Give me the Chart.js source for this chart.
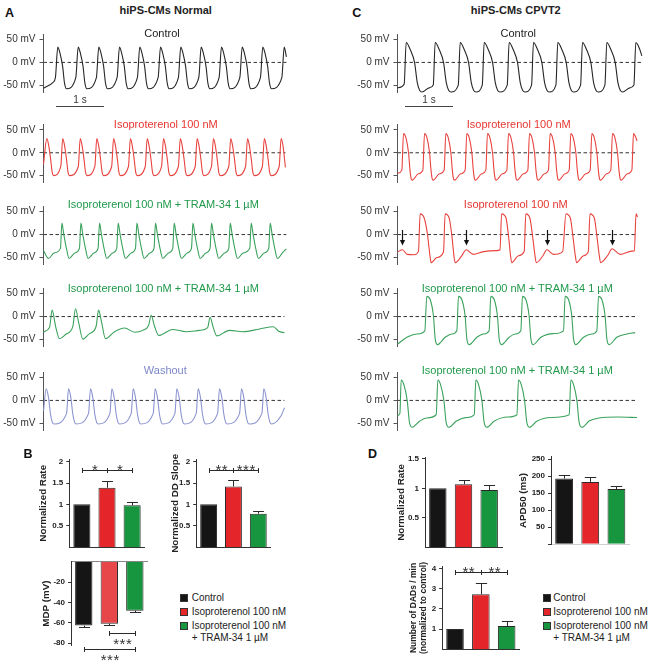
<!DOCTYPE html>
<html>
<head>
<meta charset="utf-8">
<script src="https://cdn.jsdelivr.net/npm/chart.js@4.4.1/dist/chart.umd.min.js"></script>
<style>
  html, body { margin: 0; padding: 0; background: #fff; overflow: hidden; }
  #fig { position: relative; width: 649px; height: 664px; overflow: hidden;
         font-family: "Liberation Sans", Arial, sans-serif; color: #222; }
  #fig canvas { position: absolute; }
  .t { position: absolute; white-space: nowrap; transform: translate(-50%, -50%); line-height: 1; }
  .letter { font-size: 12.5px; font-weight: bold; color: #111; }
  .head { font-size: 11px; font-weight: bold; color: #222; }
  .lab { font-size: 11px; }
  .red { color: #e63631; }
  .grn { color: #20994a; }
  .wash { color: #7e88c9; }
  .sc { font-size: 10px; color: #333; }
  .sbar { position: absolute; height: 1px; background: #444; }
  .sq { position: absolute; width: 8px; height: 8px; box-sizing: border-box; border: 1px solid #333; }
  .lg { position: absolute; white-space: nowrap; font-size: 10px; line-height: 1; transform: translateY(-50%); color: #222; }
</style>
</head>
<body>
<div id="fig">
  <div class="t letter" style="left:9.5px;top:12.5px">A</div>
  <div class="t letter" style="left:356.7px;top:12.5px">C</div>
  <div class="t letter" style="left:28px;top:454px">B</div>
  <div class="t letter" style="left:372.5px;top:454px">D</div>
  <div class="t head" style="left:165.7px;top:9.5px">hiPS-CMs Normal</div>
  <div class="t head" style="left:515.8px;top:10px">hiPS-CMs CPVT2</div>

  <div class="t lab" style="left:162px;top:33.3px">Control</div>
  <div class="t lab red" style="left:165.8px;top:124px">Isoproterenol 100 nM</div>
  <div class="t lab grn" style="left:163.3px;top:204.3px">Isoproterenol 100 nM + TRAM-34 1 µM</div>
  <div class="t lab grn" style="left:163.3px;top:288.3px">Isoproterenol 100 nM + TRAM-34 1 µM</div>
  <div class="t lab wash" style="left:165.3px;top:370px">Washout</div>

  <div class="t lab" style="left:518.3px;top:33px">Control</div>
  <div class="t lab red" style="left:518.7px;top:124px">Isoproterenol 100 nM</div>
  <div class="t lab red" style="left:515.8px;top:204.3px">Isoproterenol 100 nM</div>
  <div class="t lab grn" style="left:517.3px;top:288.3px">Isoproterenol 100 nM + TRAM-34 1 µM</div>
  <div class="t lab grn" style="left:517.3px;top:370px">Isoproterenol 100 nM + TRAM-34 1 µM</div>

  <div class="sbar" style="left:56px;top:106px;width:48px"></div>
  <div class="t sc" style="left:80px;top:100px">1 s</div>
  <div class="sbar" style="left:405px;top:106px;width:48px"></div>
  <div class="t sc" style="left:429px;top:100px">1 s</div>

  <div class="sq" style="left:180px;top:594.3px;background:#151515"></div>
  <div class="lg" style="left:191.7px;top:598.3px">Control</div>
  <div class="sq" style="left:180px;top:607.7px;background:#e4262a"></div>
  <div class="lg" style="left:191.7px;top:611.7px">Isoproterenol 100 nM</div>
  <div class="sq" style="left:180px;top:621.7px;background:#17963f"></div>
  <div class="lg" style="left:191.7px;top:625.7px">Isoproterenol 100 nM</div>
  <div class="lg" style="left:191.7px;top:637.5px">+ TRAM-34 1 µM</div>

  <div class="sq" style="left:542.7px;top:594.3px;background:#151515"></div>
  <div class="lg" style="left:553.3px;top:598.3px">Control</div>
  <div class="sq" style="left:542.7px;top:607.7px;background:#e4262a"></div>
  <div class="lg" style="left:553.3px;top:611.7px">Isoproterenol 100 nM</div>
  <div class="sq" style="left:542.7px;top:621.7px;background:#17963f"></div>
  <div class="lg" style="left:553.3px;top:625.7px">Isoproterenol 100 nM</div>
  <div class="lg" style="left:553.3px;top:637.5px">+ TRAM-34 1 µM</div>
</div>
<script>
// ---- data ----
// traces: [time (s), membrane potential (mV)]
const traceACtrl = [[0,-56],[0.2,-43],[0.248,-33],[0.298,33],[0.348,18],[0.398,-8],[0.438,-45],[0.478,-57],
  [0.673,-33],[0.723,33],[0.773,18],[0.823,-8],[0.863,-45],[0.903,-57],
  [1.102,-33],[1.152,33],[1.202,18],[1.252,-8],[1.292,-45],[1.332,-57],
  [1.533,-33],[1.583,33],[1.633,18],[1.683,-8],[1.723,-45],[1.763,-57],
  [1.956,-33],[2.006,33],[2.056,18],[2.106,-8],[2.146,-45],[2.186,-57],
  [2.388,-33],[2.438,33],[2.488,18],[2.538,-8],[2.578,-45],[2.618,-57],
  [2.81,-33],[2.86,33],[2.91,18],[2.96,-8],[3.0,-45],[3.04,-57],
  [3.235,-33],[3.285,33],[3.335,18],[3.385,-8],[3.425,-45],[3.465,-57],
  [3.658,-33],[3.708,33],[3.758,18],[3.808,-8],[3.848,-45],[3.888,-57],
  [4.09,-33],[4.14,33],[4.19,18],[4.24,-8],[4.28,-45],[4.32,-57],
  [4.519,-33],[4.569,33],[4.619,18],[4.669,-8],[4.709,-45],[4.749,-57],
  [4.965,-33],[5.015,33],[5.06,12]];

const traceAIso = [[0,-25],[0.07,31],[0.11,15],[0.15,-15],[0.18,-42],[0.21,-50],
  [0.36,-30],[0.4,31],[0.44,15],[0.48,-15],[0.51,-42],[0.54,-50],
  [0.725,-30],[0.765,31],[0.805,15],[0.845,-15],[0.875,-42],[0.905,-50],
  [1.07,-30],[1.11,31],[1.15,15],[1.19,-15],[1.22,-42],[1.25,-50],
  [1.42,-30],[1.46,31],[1.5,15],[1.54,-15],[1.57,-42],[1.6,-50],
  [1.77,-30],[1.81,31],[1.85,15],[1.89,-15],[1.92,-42],[1.95,-50],
  [2.12,-30],[2.16,31],[2.2,15],[2.24,-15],[2.27,-42],[2.3,-50],
  [2.46,-30],[2.5,31],[2.54,15],[2.58,-15],[2.61,-42],[2.64,-50],
  [2.81,-30],[2.85,31],[2.89,15],[2.93,-15],[2.96,-42],[2.99,-50],
  [3.16,-30],[3.2,31],[3.24,15],[3.28,-15],[3.31,-42],[3.34,-50],
  [3.5,-30],[3.54,31],[3.58,15],[3.62,-15],[3.65,-42],[3.68,-50],
  [3.86,-30],[3.9,31],[3.94,15],[3.98,-15],[4.01,-42],[4.04,-50],
  [4.21,-30],[4.25,31],[4.29,15],[4.33,-15],[4.36,-42],[4.39,-50],
  [4.56,-30],[4.6,31],[4.64,15],[4.68,-15],[4.71,-42],[4.74,-50],
  [4.91,-30],[4.95,31],[4.99,15],[5.04,-32]];

const traceATram = [[0,-35],[0.104,-52],[0.22,-40],
  [0.353,-30],[0.383,25],[0.423,0],[0.483,-33],[0.533,-52],[0.653,-40],
  [0.749,-30],[0.779,25],[0.819,0],[0.879,-33],[0.929,-52],[1.049,-40],
  [1.137,-30],[1.167,25],[1.207,0],[1.267,-33],[1.317,-52],[1.437,-40],
  [1.526,-30],[1.556,25],[1.596,0],[1.656,-33],[1.706,-52],[1.826,-40],
  [1.916,-30],[1.946,25],[1.986,0],[2.046,-33],[2.096,-52],[2.216,-40],
  [2.303,-30],[2.333,25],[2.373,0],[2.433,-33],[2.483,-52],[2.603,-40],
  [2.693,-30],[2.723,25],[2.763,0],[2.823,-33],[2.873,-52],[2.993,-40],
  [3.083,-30],[3.113,25],[3.153,0],[3.213,-33],[3.263,-52],[3.383,-40],
  [3.47,-30],[3.5,25],[3.54,0],[3.6,-33],[3.65,-52],[3.77,-40],
  [3.86,-30],[3.89,25],[3.93,0],[3.99,-33],[4.04,-52],[4.16,-40],
  [4.297,-30],[4.327,25],[4.367,0],[4.427,-33],[4.477,-52],[4.597,-40],
  [4.693,-30],[4.723,25],[4.763,0],[4.823,-33],[4.873,-52],[4.99,-38],[5.06,-31]];

const traceATram2 = [[0,-33],[0.125,-24],[0.18,14],[0.25,-20],[0.333,-48],[0.47,-38],[0.61,-22],
  [0.667,17],[0.736,-15],[0.819,-49],[0.958,-37],[1.097,-21],[1.146,14],[1.215,-15],[1.29,-48],
  [1.48,-33],[1.69,-25],[1.9,-34],[2.07,-30],[2.19,-19],[2.243,3],[2.31,-20],[2.4,-41],
  [2.69,-28],[2.97,-33],[3.25,-30],[3.42,-24],[3.47,-1.5],[3.54,-25],[3.61,-42],
  [3.875,-30],[4.15,-33],[4.5,-27],[4.79,-22],[4.9,-32],[5.02,-35]];

const traceAWash = [[0,-23],[0.056,25],[0.106,5],[0.146,-30],[0.186,-48],[0.216,-51],
  [0.481,-28],[0.521,25],[0.571,5],[0.611,-30],[0.651,-48],[0.681,-51],
  [0.939,-28],[0.979,25],[1.029,5],[1.069,-30],[1.109,-48],[1.139,-51],
  [1.384,-28],[1.424,25],[1.474,5],[1.514,-30],[1.554,-48],[1.584,-51],
  [1.828,-28],[1.868,25],[1.918,5],[1.958,-30],[1.998,-48],[2.028,-51],
  [2.286,-28],[2.326,25],[2.376,5],[2.416,-30],[2.456,-48],[2.486,-51],
  [2.738,-28],[2.778,25],[2.828,5],[2.868,-30],[2.908,-48],[2.938,-51],
  [3.182,-28],[3.222,25],[3.272,5],[3.312,-30],[3.352,-48],[3.382,-51],
  [3.627,-28],[3.667,25],[3.717,5],[3.757,-30],[3.797,-48],[3.827,-51],
  [4.085,-28],[4.125,25],[4.175,5],[4.215,-30],[4.255,-48],[4.285,-51],
  [4.55,-28],[4.59,25],[4.64,5],[4.68,-30],[4.72,-48],[4.75,-51],[4.95,-33],[5.02,-16]];

const traceCCtrl = [[0,-55],[0.139,-47],[0.181,43],[0.264,28],[0.355,0],[0.411,-43],[0.461,-60],[0.511,-64],[0.66,-55],
  [0.745,-49],[0.785,43],[0.868,28],[0.959,0],[1.015,-43],[1.065,-60],[1.115,-64],
  [1.266,-49],[1.306,43],[1.389,28],[1.48,0],[1.536,-43],[1.586,-60],[1.636,-64],
  [1.766,-49],[1.806,43],[1.889,28],[1.98,0],[2.036,-43],[2.086,-60],[2.136,-64],
  [2.286,-49],[2.326,43],[2.409,28],[2.5,0],[2.556,-43],[2.606,-60],[2.656,-64],
  [2.793,-49],[2.833,43],[2.916,28],[3.007,0],[3.063,-43],[3.113,-60],[3.163,-64],
  [3.3,-49],[3.34,43],[3.423,28],[3.514,0],[3.57,-43],[3.62,-60],[3.67,-64],
  [3.814,-49],[3.854,43],[3.937,28],[4.028,0],[4.084,-43],[4.134,-60],[4.184,-64],
  [4.321,-49],[4.361,43],[4.444,28],[4.535,0],[4.591,-43],[4.641,-60],[4.691,-64],[4.84,-55],
  [4.925,-49],[4.965,43],[5.048,28],[5.09,14]];

const traceCIso = [[0,-45],[0.09,-38],[0.125,42],[0.175,33],[0.23,0],[0.26,-38],[0.285,-57],[0.305,-60],[0.435,-46],
  [0.528,-38],[0.563,42],[0.613,33],[0.668,0],[0.698,-38],[0.723,-57],[0.743,-60],[0.873,-46],
  [0.972,-38],[1.007,42],[1.057,33],[1.112,0],[1.142,-38],[1.167,-57],[1.187,-60],[1.317,-46],
  [1.409,-38],[1.444,42],[1.494,33],[1.549,0],[1.579,-38],[1.604,-57],[1.624,-60],[1.754,-46],
  [1.84,-38],[1.875,42],[1.925,33],[1.98,0],[2.01,-38],[2.035,-57],[2.055,-60],[2.185,-46],
  [2.278,-38],[2.313,42],[2.363,33],[2.418,0],[2.448,-38],[2.473,-57],[2.493,-60],[2.623,-46],
  [2.715,-38],[2.75,42],[2.8,33],[2.855,0],[2.885,-38],[2.91,-57],[2.93,-60],[3.06,-46],
  [3.145,-38],[3.18,42],[3.23,33],[3.285,0],[3.315,-38],[3.34,-57],[3.36,-60],[3.49,-46],
  [3.576,-38],[3.611,42],[3.661,33],[3.716,0],[3.746,-38],[3.771,-57],[3.791,-60],[3.921,-46],
  [4.014,-38],[4.049,42],[4.099,33],[4.154,0],[4.184,-38],[4.209,-57],[4.229,-60],[4.359,-46],
  [4.444,-38],[4.479,42],[4.529,33],[4.584,0],[4.614,-38],[4.639,-57],[4.659,-60],[4.789,-46],
  [4.882,-38],[4.917,42],[4.967,33],[4.99,26]];

const traceCDad = [[0,-38],[0.104,-33],[0.2,-43],[0.35,-44],[0.437,-36],
  [0.472,45],[0.556,36],[0.625,0],[0.681,-50],[0.701,-61],[0.819,-50],[0.958,-38],
  [0.993,45],[1.076,36],[1.13,0],[1.18,-50],[1.2,-61],[1.34,-46],[1.43,-33],[1.58,-43],[1.79,-37],[2.07,-35],[2.135,-33],
  [2.17,45],[2.26,36],[2.31,0],[2.36,-50],[2.38,-61],[2.52,-46],[2.639,-37],
  [2.674,45],[2.757,36],[2.81,0],[2.87,-50],[2.89,-61],[3.03,-46],[3.11,-33],[3.25,-43],[3.44,-37],
  [3.51,45],[3.6,36],[3.65,0],[3.71,-50],[3.73,-61],[3.875,-46],[3.975,-37],
  [4.01,45],[4.1,36],[4.15,0],[4.21,-50],[4.23,-61],[4.375,-46],[4.47,-31],[4.64,-43],[4.88,-36],[4.935,-35],
  [4.97,45],[5.0,38]];
const dadArrowTimes = [0.104, 1.43, 3.11, 4.47];

const traceCTram = [[0,-60],[0.194,-45],[0.403,-38],[0.569,-31],
  [0.611,44],[0.681,37],[0.75,0],[0.785,-48],[0.833,-61],[0.993,-45],[1.13,-38],[1.236,-31],
  [1.271,44],[1.34,37],[1.41,0],[1.444,-48],[1.493,-61],[1.653,-45],[1.79,-38],[1.909,-31],
  [1.944,44],[2.014,37],[2.083,0],[2.118,-48],[2.167,-61],[2.326,-45],[2.45,-38],[2.569,-31],
  [2.604,44],[2.674,37],[2.743,0],[2.778,-48],[2.826,-61],[2.986,-45],[3.25,-37],[3.458,-31],
  [3.493,44],[3.563,37],[3.632,0],[3.667,-48],[3.715,-61],[3.875,-45],[4.049,-38],[4.153,-31],
  [4.188,44],[4.257,37],[4.326,0],[4.361,-48],[4.41,-61],[4.569,-45],[4.778,-38],[4.951,-35]];

const traceCTram2 = [[0,-33],[0.05,-28],[0.077,44],[0.133,34],[0.202,0],[0.25,-48],[0.306,-58],[0.46,-45],[0.6,-38],
  [0.806,-31],[0.841,44],[0.897,34],[0.966,0],[1.014,-48],[1.07,-58],[1.22,-45],[1.45,-37],
  [1.598,-31],[1.633,44],[1.689,34],[1.758,0],[1.806,-48],[1.862,-58],[2.01,-45],[2.3,-36],
  [2.487,-31],[2.522,44],[2.578,34],[2.647,0],[2.695,-48],[2.751,-58],[2.9,-45],[3.2,-37],
  [3.577,-31],[3.612,44],[3.668,34],[3.737,0],[3.785,-48],[3.841,-58],[4.0,-44],[4.2,-38],[4.6,-36],[4.99,-37]];

const traceTicks = [-50, 0, 50];

// bar panels
const categories = ['Control', 'Isoproterenol 100 nM', 'Isoproterenol 100 nM + TRAM-34 1 µM'];
const normalRate = [1.0, 1.39, 0.98];
const normalRateSem = [0, 0.16, 0.07];
const normalDdSlope = [1.0, 1.42, 0.78];
const normalDdSlopeSem = [0, 0.15, 0.06];
const normalMdp = [-62.7, -60.8, -48.0];
const normalMdpSem = [1.0, 1.0, 1.2];
const cpvtRate = [1.0, 1.07, 0.97];
const cpvtRateSem = [0, 0.08, 0.09];
const cpvtApd50 = [193, 183, 162];
const cpvtApd50Sem = [11, 13, 8];
const cpvtDads = [1.0, 2.72, 1.15];
const cpvtDadsSem = [0, 0.54, 0.25];

const rateTicksB = [0.5, 1, 1.5, 2];
const mdpTicks = [-20, -40, -60, -80];
const rateTicksD = [0.5, 1, 1.5];
const apdTicks = [0, 50, 100, 150, 200, 250];
const dadTicks = [1, 2, 3, 4];

// significance: [from, to, level, stars]
const sigNormalRate = [[0, 1, 1.8, '*'], [1, 2, 1.8, '*']];
const sigNormalDd = [[0, 1, 1.8, '**'], [1, 2, 1.8, '***']];
const sigNormalMdp = [[1, 2, -70, '***'], [0, 2, -85.5, '***']];
const sigCpvtDads = [[0, 1, 3.83, '**'], [1, 2, 3.83, '**']];

// ---- styling ----
const ctrlColor = '#262626';
const isoColor = '#e8433e';
const tramColor = '#3aa25c';
const washColor = '#8b94d0';
const barColors = ['#151515', '#e4262a', '#17963f'];
const mdpColors = ['#151515', '#e8474a', '#17963f'];

const PX_PER_S = 48;
const PX_PER_MV = 0.472;
const TRACE_SPAN = 5.1;
const TRACE_MAX = 61;
const TRACE_MIN = -64;

Chart.defaults.font.family = '"Liberation Sans", Arial, sans-serif';
Chart.defaults.color = '#333';

const fig = document.getElementById('fig');

function mountCanvas(box) {
  const c = document.createElement('canvas');
  c.width = box.right - box.left;
  c.height = box.bottom - box.top;
  c.style.left = box.left + 'px';
  c.style.top = box.top + 'px';
  fig.insertBefore(c, fig.firstChild);
  return c;
}

function paddingFor(box, area) {
  return { left: 0, top: area.t - box.top, right: box.right - area.r, bottom: box.bottom - area.b };
}

const dadArrows = {
  id: 'dadArrows',
  afterDatasetsDraw(chart, args, opts) {
    const { ctx, scales: { x, y } } = chart;
    ctx.save();
    ctx.strokeStyle = '#111';
    ctx.fillStyle = '#111';
    ctx.lineWidth = 1.2;
    opts.times.forEach(t => {
      const px = Math.round(x.getPixelForValue(t)) + 0.5;
      const top = y.getPixelForValue(10);
      const tip = y.getPixelForValue(-24);
      ctx.beginPath();
      ctx.moveTo(px, top);
      ctx.lineTo(px, tip - 4);
      ctx.stroke();
      ctx.beginPath();
      ctx.moveTo(px - 2.6, tip - 5.5);
      ctx.lineTo(px + 2.6, tip - 5.5);
      ctx.lineTo(px, tip);
      ctx.closePath();
      ctx.fill();
    });
    ctx.restore();
  }
};

function traceChart(spec) {
  const area = {
    l: spec.axisX,
    r: spec.axisX + TRACE_SPAN * PX_PER_S,
    t: spec.y0 - TRACE_MAX * PX_PER_MV,
    b: spec.y0 - TRACE_MIN * PX_PER_MV
  };
  const box = { left: spec.left, right: Math.ceil(area.r + 3), top: Math.floor(area.t - 12), bottom: Math.ceil(area.b + 8) };
  const end = spec.data[spec.data.length - 1][0];
  new Chart(mountCanvas(box), {
    type: 'line',
    data: {
      datasets: [
        { data: spec.data, borderColor: spec.color, borderWidth: 1.1, pointRadius: 0,
          cubicInterpolationMode: 'monotone', clip: 8 },
        { data: [[0, 0], [end, 0]], borderColor: '#333', borderWidth: 1, borderDash: [3.5, 2.5], pointRadius: 0 }
      ]
    },
    options: {
      responsive: false,
      animation: false,
      devicePixelRatio: 1,
      layout: { padding: paddingFor(box, area) },
      plugins: {
        legend: { display: false },
        tooltip: { enabled: false },
        dadArrows: { times: spec.arrows || [] }
      },
      scales: {
        x: { type: 'linear', display: false, min: 0, max: TRACE_SPAN },
        y: {
          min: TRACE_MIN,
          max: TRACE_MAX,
          afterBuildTicks: s => { s.ticks = traceTicks.map(v => ({ value: v })); },
          afterFit: s => { s.width = area.l - box.left; },
          ticks: { callback: v => v + ' mV', font: { size: 10 }, color: '#333', padding: 4 },
          grid: { drawOnChartArea: false, tickLength: 4, tickColor: '#555' },
          border: { color: '#555' }
        }
      }
    },
    plugins: spec.arrows ? [dadArrows] : []
  });
}

const barDecor = {
  id: 'barDecor',
  afterDatasetsDraw(chart, args, opts) {
    const { ctx, scales: { y } } = chart;
    const bars = chart.getDatasetMeta(0).data;
    const values = chart.data.datasets[0].data;
    ctx.save();
    ctx.strokeStyle = '#2a2a2a';
    ctx.lineWidth = 1;
    opts.sem.forEach((s, i) => {
      if (!s) return;
      const v = values[i];
      const x = Math.round(bars[i].x) + 0.5;
      const y0 = y.getPixelForValue(v);
      const y1 = Math.round(y.getPixelForValue(v + Math.sign(v) * s)) + 0.5;
      const half = bars[i].width * 0.32;
      ctx.beginPath();
      ctx.moveTo(x, y0);
      ctx.lineTo(x, y1);
      ctx.moveTo(x - half, y1);
      ctx.lineTo(x + half, y1);
      ctx.stroke();
    });
    ctx.fillStyle = '#333';
    ctx.font = '15px "Liberation Sans", Arial, sans-serif';
    ctx.textAlign = 'center';
    (opts.sig || []).forEach(([a, b, level, stars]) => {
      const xa = Math.round(bars[a].x) + 0.5;
      const xb = Math.round(bars[b].x) + 0.5;
      const yl = Math.round(y.getPixelForValue(level)) + 0.5;
      ctx.beginPath();
      ctx.moveTo(xa, yl);
      ctx.lineTo(xb, yl);
      ctx.moveTo(xa, yl - 2.5);
      ctx.lineTo(xa, yl + 2.5);
      ctx.moveTo(xb, yl - 2.5);
      ctx.lineTo(xb, yl + 2.5);
      ctx.stroke();
      const mid = (xa + xb) / 2;
      const base = opts.starsBelow ? yl + 15 : yl + 4;
      for (let k = 0; k < stars.length; k++) {
        ctx.fillText('*', mid + (k - (stars.length - 1) / 2) * 6.3, base);
      }
    });
    ctx.restore();
  }
};

function barChart(spec) {
  const a = spec.area;
  const lh = spec.titleSize * 1.25;
  const left = Math.floor(spec.titleX - lh / 2);
  const box = { left, right: Math.ceil(a.r + 3), top: Math.floor(a.t - 9), bottom: Math.ceil(a.b + (spec.below || 8)) };
  new Chart(mountCanvas(box), {
    type: 'bar',
    data: {
      labels: categories,
      datasets: [{
        data: spec.values,
        backgroundColor: spec.colors || barColors,
        borderColor: '#2a2a2a',
        borderWidth: 1,
        barPercentage: 0.68,
        categoryPercentage: 1
      }]
    },
    options: {
      responsive: false,
      animation: false,
      devicePixelRatio: 1,
      layout: { padding: paddingFor(box, a) },
      plugins: {
        legend: { display: false },
        tooltip: { enabled: false },
        barDecor: { sem: spec.sem, sig: spec.sig, starsBelow: spec.starsBelow }
      },
      scales: {
        x: {
          position: spec.xTop ? 'top' : 'bottom',
          ticks: { display: false },
          grid: { display: false },
          border: { color: spec.xColor || '#333' },
          afterFit: s => { s.height = 0; }
        },
        y: {
          min: spec.min,
          max: spec.max,
          afterBuildTicks: s => { s.ticks = spec.ticks.map(v => ({ value: v })); },
          afterFit: s => { s.width = a.l - box.left; },
          ticks: { callback: v => (v === 0 ? '' : String(v)), font: { size: 8, weight: 'bold' }, color: '#222', padding: 3 },
          grid: { drawOnChartArea: false, tickLength: 3, tickColor: '#333' },
          border: { color: '#333' },
          title: {
            display: true,
            text: spec.title,
            color: '#222',
            font: { size: spec.titleSize, weight: 'bold', lineHeight: 1.25 },
            padding: { top: spec.titleX - lh / 2 - left, bottom: 0 }
          }
        }
      }
    },
    plugins: [barDecor]
  });
}

// ---- traces ----
traceChart({ data: traceACtrl, color: ctrlColor, axisX: 43.5, y0: 63, left: 0 });
traceChart({ data: traceAIso, color: isoColor, axisX: 43.5, y0: 153.7, left: 0 });
traceChart({ data: traceATram, color: tramColor, axisX: 43.5, y0: 235.3, left: 0 });
traceChart({ data: traceATram2, color: tramColor, axisX: 43.5, y0: 317.3, left: 0 });
traceChart({ data: traceAWash, color: washColor, axisX: 43.5, y0: 401, left: 0 });

traceChart({ data: traceCCtrl, color: ctrlColor, axisX: 397.5, y0: 63, left: 350 });
traceChart({ data: traceCIso, color: isoColor, axisX: 397.5, y0: 153.7, left: 350 });
traceChart({ data: traceCDad, color: isoColor, axisX: 397.5, y0: 235.3, left: 350, arrows: dadArrowTimes });
traceChart({ data: traceCTram, color: tramColor, axisX: 397.5, y0: 317.3, left: 350 });
traceChart({ data: traceCTram2, color: tramColor, axisX: 397.5, y0: 401, left: 350 });

// ---- bars ----
barChart({ area: { l: 69.3, t: 459.6, r: 144.7, b: 547 }, min: 0, max: 2.05, ticks: rateTicksB,
  values: normalRate, sem: normalRateSem, sig: sigNormalRate,
  title: 'Normalized Rate', titleX: 43.7, titleSize: 9.8 });
barChart({ area: { l: 196.2, t: 459.6, r: 270.7, b: 547 }, min: 0, max: 2.05, ticks: rateTicksB,
  values: normalDdSlope, sem: normalDdSlopeSem, sig: sigNormalDd,
  title: 'Normalized DD Slope', titleX: 175, titleSize: 9.8 });
barChart({ area: { l: 71, t: 561.7, r: 147.6, b: 645.3 }, min: -82, max: 0, ticks: mdpTicks,
  values: normalMdp, sem: normalMdpSem, sig: sigNormalMdp, starsBelow: true, xTop: true, xColor: '#888',
  colors: mdpColors, below: 18, title: 'MDP (mV)', titleX: 46.7, titleSize: 9.8 });

barChart({ area: { l: 425, t: 457.8, r: 502, b: 547 }, min: 0, max: 1.52, ticks: rateTicksD,
  values: cpvtRate, sem: cpvtRateSem, title: 'Normalized Rate', titleX: 401.7, titleSize: 9.8 });
barChart({ area: { l: 551, t: 456.7, r: 629.5, b: 544.3 }, min: 0, max: 257, ticks: apdTicks,
  values: cpvtApd50, sem: cpvtApd50Sem, xColor: '#cfcfcf', title: 'APD50 (ms)', titleX: 523.3, titleSize: 9.8 });
barChart({ area: { l: 442.1, t: 566.7, r: 519.6, b: 649.3 }, min: 0, max: 4.08, ticks: dadTicks,
  values: cpvtDads, sem: cpvtDadsSem, sig: sigCpvtDads,
  title: ['Number of DADs / min', '(normalized to control)'], titleX: 413.3, titleSize: 8.5 });
</script>
</body>
</html>
